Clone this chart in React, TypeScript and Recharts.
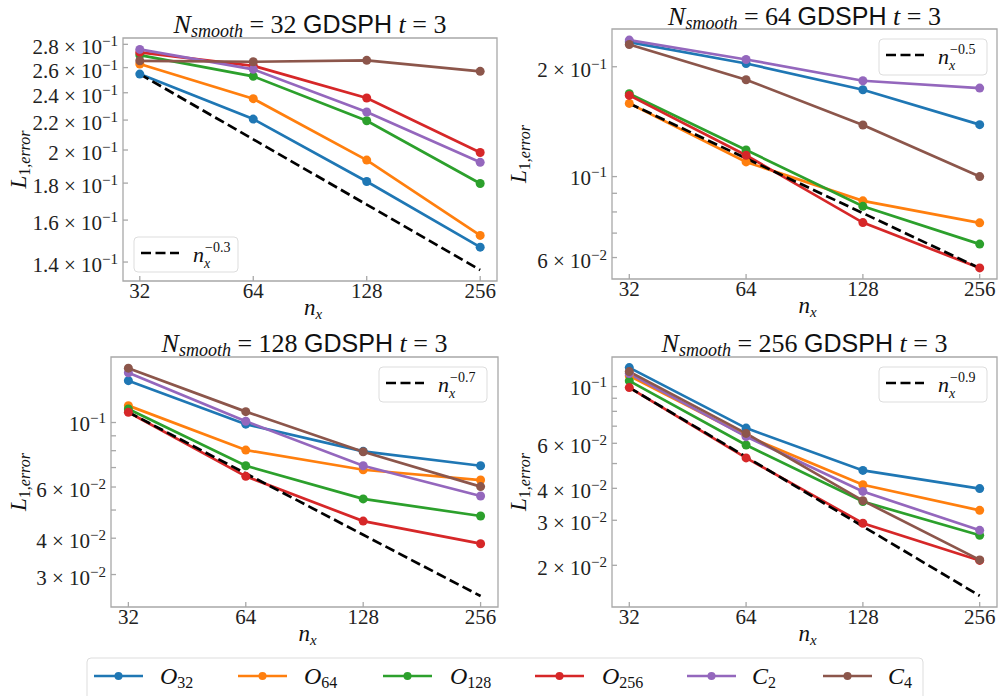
import { Line, LineChart, ReferenceArea, XAxis, YAxis } from "recharts";

const nx = [32, 64, 128, 256];

// L1 error, N_smooth = 32
const err32O32 = [0.2547, 0.2207, 0.1809, 0.1468];
const err32O64 = [0.263, 0.2355, 0.1937, 0.1524];
const err32O128 = [0.2706, 0.2529, 0.2195, 0.1798];
const err32O256 = [0.2729, 0.2615, 0.236, 0.1984];
const err32C2 = [0.2755, 0.2586, 0.2257, 0.1923];
const err32C4 = [0.2657, 0.2649, 0.2661, 0.2569];
const guide32 = [0.2547, 0.2069, 0.1681, 0.1365];

// L1 error, N_smooth = 64
const err64O32 = [0.2337, 0.2042, 0.173, 0.1388];
const err64O64 = [0.1587, 0.1097, 0.0858, 0.0747];
const err64O128 = [0.1687, 0.1183, 0.0829, 0.0653];
const err64O256 = [0.1669, 0.1144, 0.0748, 0.0562];
const err64C2 = [0.2366, 0.2094, 0.1831, 0.1748];
const err64C4 = [0.2302, 0.1843, 0.1385, 0.1];
const guide64 = [0.1587, 0.1122, 0.0794, 0.0561];

// L1 error, N_smooth = 128
const err128O32 = [0.1393, 0.0987, 0.0796, 0.071];
const err128O64 = [0.1143, 0.0804, 0.0688, 0.0634];
const err128O128 = [0.1113, 0.071, 0.0546, 0.0477];
const err128O256 = [0.1085, 0.0653, 0.0458, 0.0383];
const err128C2 = [0.1483, 0.101, 0.071, 0.0559];
const err128C4 = [0.1538, 0.109, 0.0793, 0.0602];
const guide128 = [0.1085, 0.0668, 0.0411, 0.0253];

// L1 error, N_smooth = 256
const err256O32 = [0.1186, 0.0688, 0.047, 0.0399];
const err256O64 = [0.1101, 0.0642, 0.0413, 0.0328];
const err256O128 = [0.1052, 0.0591, 0.0355, 0.0262];
const err256O256 = [0.0991, 0.0526, 0.0292, 0.0209];
const err256C2 = [0.1124, 0.0637, 0.0389, 0.0274];
const err256C4 = [0.1144, 0.0656, 0.0358, 0.021];
const guide256 = [0.0991, 0.0531, 0.0284, 0.0152];

// y ticks (every one gets a mark) and the ones that carry a label
const ticks32 = [0.14, 0.16, 0.18, 0.2, 0.22, 0.24, 0.26, 0.28];
const labels32 = ticks32;
const ticks64 = [0.06, 0.07, 0.08, 0.09, 0.1, 0.2];
const labels64 = [0.06, 0.1, 0.2];
const ticks128 = [0.03, 0.04, 0.05, 0.06, 0.07, 0.08, 0.09, 0.1];
const labels128 = [0.03, 0.04, 0.06, 0.1];
const ticks256 = [0.02, 0.03, 0.04, 0.05, 0.06, 0.07, 0.08, 0.09, 0.1];
const labels256 = [0.02, 0.03, 0.04, 0.06, 0.1];

const series = [
  { key: "O32", color: "#1f77b4", base: "O", sub: "32" },
  { key: "O64", color: "#ff7f0e", base: "O", sub: "64" },
  { key: "O128", color: "#2ca02c", base: "O", sub: "128" },
  { key: "O256", color: "#d62728", base: "O", sub: "256" },
  { key: "C2", color: "#9467bd", base: "C", sub: "2" },
  { key: "C4", color: "#8c564b", base: "C", sub: "4" },
];

const SERIF = '"Liberation Serif", "DejaVu Serif", serif';
const SANS = '"Liberation Sans", "DejaVu Sans", sans-serif';
const AXIS = "#a8a8a8";
const Y_W = 60;
const X_H = 30;
const X_DOMAIN: [number, number] = [28.88, 283.7];

type Box = { l: number; t: number; r: number; b: number };
type Cell = { x: number; y: number; w: number; h: number };

type PanelCfg = {
  nSmooth: number;
  slope: string;
  errors: Record<string, number[]>;
  guide: number[];
  yDomain: [number, number];
  yTicks: number[];
  yLabels: number[];
  cell: Cell;
  box: Box;
  titleY: number;
  yLabelX: number;
  xLabelY: number;
  legend: { x: number; y: number; w: number; h: number };
};

const panels: PanelCfg[] = [
  {
    nSmooth: 32,
    slope: "0.3",
    errors: { O32: err32O32, O64: err32O64, O128: err32O128, O256: err32O256, C2: err32C2, C4: err32C4 },
    guide: guide32,
    yDomain: [0.1318, 0.2857],
    yTicks: ticks32,
    yLabels: labels32,
    cell: { x: 0, y: 0, w: 499, h: 322 },
    box: { l: 123, t: 38, r: 497, b: 281 },
    titleY: 33,
    yLabelX: 26,
    xLabelY: 315,
    legend: { x: 134, y: 237, w: 104, h: 35 },
  },
  {
    nSmooth: 64,
    slope: "0.5",
    errors: { O32: err64O32, O64: err64O64, O128: err64O128, O256: err64O256, C2: err64C2, C4: err64C4 },
    guide: guide64,
    yDomain: [0.0524, 0.2538],
    yTicks: ticks64,
    yLabels: labels64,
    cell: { x: 499, y: 0, w: 499, h: 322 },
    box: { l: 612, t: 29, r: 997, b: 279 },
    titleY: 25,
    yLabelX: 526,
    xLabelY: 313,
    legend: { x: 879, y: 39, w: 108, h: 36 },
  },
  {
    nSmooth: 128,
    slope: "0.7",
    errors: { O32: err128O32, O64: err128O64, O128: err128O128, O256: err128O256, C2: err128C2, C4: err128C4 },
    guide: guide128,
    yDomain: [0.0232, 0.168],
    yTicks: ticks128,
    yLabels: labels128,
    cell: { x: 0, y: 322, w: 499, h: 338 },
    box: { l: 111, t: 357, r: 498, b: 607 },
    titleY: 352,
    yLabelX: 26,
    xLabelY: 641,
    legend: { x: 379, y: 367, w: 108, h: 35 },
  },
  {
    nSmooth: 256,
    slope: "0.9",
    errors: { O32: err256O32, O64: err256O64, O128: err256O128, O256: err256O256, C2: err256C2, C4: err256C4 },
    guide: guide256,
    yDomain: [0.01374, 0.1305],
    yTicks: ticks256,
    yLabels: labels256,
    cell: { x: 499, y: 322, w: 499, h: 338 },
    box: { l: 612, t: 357, r: 997, b: 607 },
    titleY: 352,
    yLabelX: 526,
    xLabelY: 641,
    legend: { x: 879, y: 367, w: 108, h: 35 },
  },
];

// bottom legend: left end of each line sample and start of each label
const legendLineX = [94, 238, 383, 535, 687, 823];
const legendTextX = [160, 304, 450, 602, 752, 888];

function sciParts(v: number) {
  const e = Math.floor(Math.log10(v) + 1e-9);
  const m = Math.round((v / Math.pow(10, e)) * 10) / 10;
  return { m, e };
}

function renderXTick(props: any) {
  const { x, y, payload } = props;
  return (
    <g>
      <line x1={x} x2={x} y1={y} y2={y - 5} stroke={AXIS} strokeWidth={1.3} />
      <text x={x} y={y + 17} textAnchor="middle" fontFamily={SERIF} fontSize={21} fill="#222">
        {payload.value}
      </text>
    </g>
  );
}

function renderYTick(props: any, labels: number[]) {
  const { x, y, payload } = props;
  const v = payload.value as number;
  const show = labels.some((l) => Math.abs(l - v) < 1e-9);
  const { m, e } = sciParts(v);
  return (
    <g>
      <line x1={x} x2={x + 5} y1={y} y2={y} stroke={AXIS} strokeWidth={1.3} />
      {show && (
        <text
          x={x - 5}
          y={y + (m === 1 ? 8.5 : 10)}
          textAnchor="end"
          fontFamily={SERIF}
          fontSize={21}
          fill="#222"
          style={{ whiteSpace: "pre" }}
        >
          {m === 1 ? "10" : `${m} \u00d7 10`}
          <tspan fontSize={15} dy={-8}>
            {`\u2212${-e}`}
          </tspan>
        </text>
      )}
    </g>
  );
}

function ErrorPanel({ p }: { p: PanelCfg }) {
  const rows = nx.map((n, i) => {
    const row: Record<string, number> = { n, guide: p.guide[i] };
    series.forEach((s) => {
      row[s.key] = p.errors[s.key][i];
    });
    return row;
  });
  const { cell, box } = p;
  const margin = {
    left: box.l - cell.x - Y_W,
    top: box.t - cell.y,
    right: cell.x + cell.w - box.r,
    bottom: cell.y + cell.h - box.b - X_H,
  };

  return (
    <div style={{ position: "absolute", left: cell.x, top: cell.y }}>
      <LineChart width={cell.w} height={cell.h} data={rows} margin={margin}>
        <XAxis
          dataKey="n"
          type="number"
          scale="log"
          domain={X_DOMAIN}
          ticks={nx}
          allowDataOverflow
          interval={0}
          height={X_H}
          axisLine={false}
          tickLine={false}
          tickSize={0}
          tickMargin={0}
          tick={renderXTick}
        />
        <YAxis
          type="number"
          scale="log"
          domain={p.yDomain}
          ticks={p.yTicks}
          allowDataOverflow
          interval={0}
          width={Y_W}
          axisLine={false}
          tickLine={false}
          tickSize={0}
          tickMargin={0}
          tick={(t: any) => renderYTick(t, p.yLabels)}
        />
        <ReferenceArea
          x1={X_DOMAIN[0]}
          x2={X_DOMAIN[1]}
          y1={p.yDomain[0]}
          y2={p.yDomain[1]}
          fill="none"
          fillOpacity={0}
          stroke={AXIS}
          strokeWidth={1.3}
          ifOverflow="visible"
        />
        {series.map((s) => (
          <Line
            key={s.key}
            type="linear"
            dataKey={s.key}
            stroke={s.color}
            strokeWidth={2.7}
            dot={{ r: 4.5, fill: s.color, stroke: s.color, strokeWidth: 0 }}
            activeDot={false}
            isAnimationActive={false}
          />
        ))}
        <Line
          type="linear"
          dataKey="guide"
          stroke="#000"
          strokeWidth={2.7}
          strokeDasharray="10 4.5"
          dot={false}
          activeDot={false}
          isAnimationActive={false}
        />
      </LineChart>
    </div>
  );
}

function PanelText({ p }: { p: PanelCfg }) {
  const cx = (p.box.l + p.box.r) / 2;
  const cy = (p.box.t + p.box.b) / 2;
  const lg = p.legend;
  return (
    <g fontFamily={SERIF} fill="#111" style={{ whiteSpace: "pre" }}>
      <text x={cx} y={p.titleY} textAnchor="middle" fontSize={26}>
        <tspan fontStyle="italic">N</tspan>
        <tspan fontStyle="italic" fontSize={18} dy={4}>
          smooth
        </tspan>
        <tspan dy={-4}>{` = ${p.nSmooth} `}</tspan>
        <tspan fontFamily={SANS} fontSize={25}>
          GDSPH
        </tspan>
        <tspan> </tspan>
        <tspan fontStyle="italic">t</tspan>
        <tspan> = 3</tspan>
      </text>

      <text
        x={p.yLabelX}
        y={cy}
        textAnchor="middle"
        fontSize={23}
        transform={`rotate(-90 ${p.yLabelX} ${cy})`}
      >
        <tspan fontStyle="italic">L</tspan>
        <tspan fontSize={16} dy={4}>
          1,
        </tspan>
        <tspan fontSize={16} fontStyle="italic">
          error
        </tspan>
      </text>

      <text x={cx - 6} y={p.xLabelY} fontSize={23} fontStyle="italic">
        n
        <tspan fontSize={15} dy={4}>
          x
        </tspan>
      </text>

      {/* guide-slope legend: n_x with stacked sub- and superscript */}
      <rect x={lg.x} y={lg.y} width={lg.w} height={lg.h} rx={4} fill="#fff" fillOpacity={0.8} stroke="#dddddd" />
      <line
        x1={lg.x + 7}
        x2={lg.x + 45}
        y1={lg.y + 16}
        y2={lg.y + 16}
        stroke="#000"
        strokeWidth={2.7}
        strokeDasharray="10 4.5"
      />
      <text x={lg.x + 59} y={lg.y + 25} fontSize={22} fontStyle="italic">
        n
      </text>
      <text x={lg.x + 70} y={lg.y + 31} fontSize={14} fontStyle="italic">
        x
      </text>
      <text x={lg.x + 71} y={lg.y + 15} fontSize={14}>
        {`\u2212${p.slope}`}
      </text>
    </g>
  );
}

export default function App() {
  return (
    <div style={{ position: "absolute", left: 0, top: 0, width: 998, height: 696, background: "#fff", overflow: "hidden" }}>
      {panels.map((p) => (
        <ErrorPanel key={p.nSmooth} p={p} />
      ))}
      <svg
        width={998}
        height={696}
        style={{ position: "absolute", left: 0, top: 0, pointerEvents: "none" }}
      >
        {panels.map((p) => (
          <PanelText key={p.nSmooth} p={p} />
        ))}
        <g fontFamily={SERIF} fill="#111">
          <rect x={87} y={658} width={836} height={60} rx={4} fill="#fff" stroke="#dddddd" />
          {series.map((s, i) => (
            <g key={s.key}>
              <line
                x1={legendLineX[i]}
                x2={legendLineX[i] + 49}
                y1={676}
                y2={676}
                stroke={s.color}
                strokeWidth={2.7}
              />
              <circle cx={legendLineX[i] + 24.5} cy={676} r={4} fill={s.color} />
              <text x={legendTextX[i]} y={684} fontSize={24}>
                <tspan fontStyle="italic">{s.base}</tspan>
                <tspan fontSize={16} dy={4}>
                  {s.sub}
                </tspan>
              </text>
            </g>
          ))}
        </g>
      </svg>
    </div>
  );
}
